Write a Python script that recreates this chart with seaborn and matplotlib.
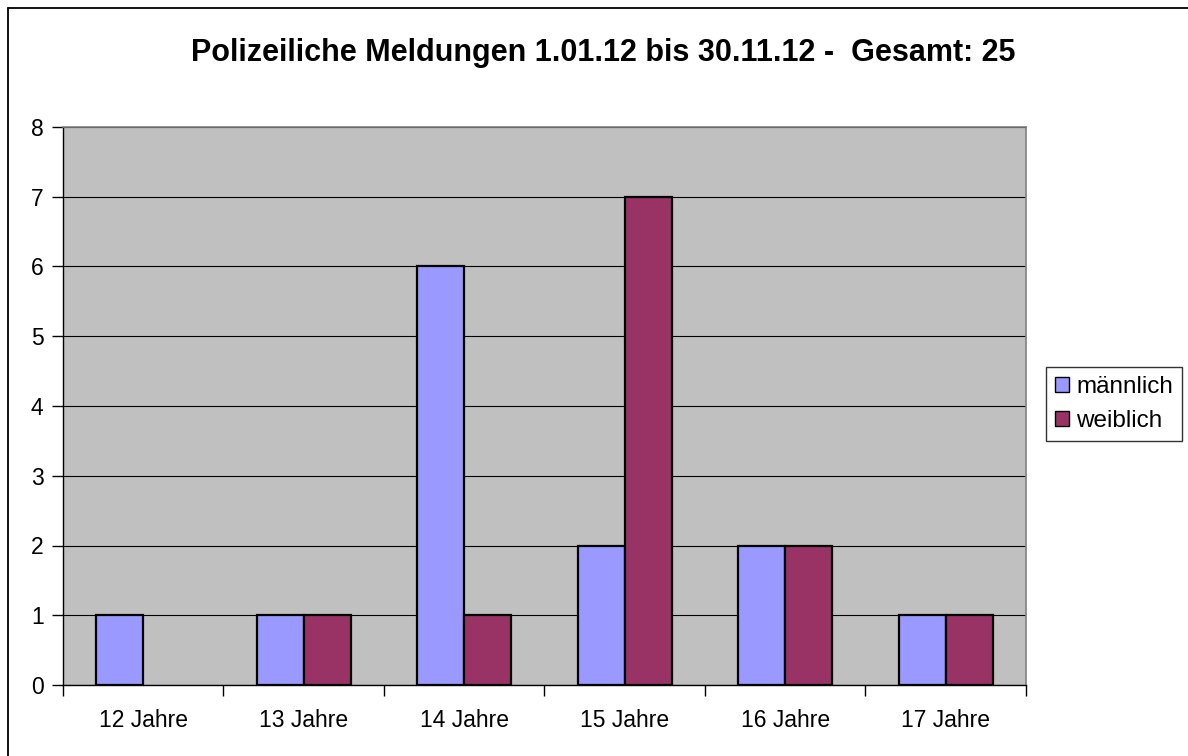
import matplotlib.pyplot as plt
import pandas as pd
import seaborn as sns
from matplotlib.lines import Line2D
from matplotlib.patches import Rectangle

ages = ["12 Jahre", "13 Jahre", "14 Jahre", "15 Jahre", "16 Jahre", "17 Jahre"]
maennlich = [1, 1, 6, 2, 2, 1]
weiblich = [0, 1, 1, 7, 2, 1]
series = ["männlich", "weiblich"]
colors = ["#9999FF", "#993366"]

df = pd.DataFrame(
    {
        "Alter": ages * 2,
        "Anzahl": maennlich + weiblich,
        "Geschlecht": [series[0]] * len(ages) + [series[1]] * len(ages),
    }
)

sns.set_style("white")
plt.rcParams["font.family"] = ["Liberation Sans", "DejaVu Sans"]
plt.rcParams["text.color"] = "black"
plt.rcParams["xtick.color"] = "black"
plt.rcParams["ytick.color"] = "black"

fig = plt.figure(figsize=(11.88, 7.56), dpi=100)
ax = fig.add_axes([63 / 1188, 1 - 685 / 756, (1026 - 63) / 1188, (685 - 127) / 756])

sns.barplot(
    data=df,
    x="Alter",
    y="Anzahl",
    hue="Geschlecht",
    palette=colors,
    width=0.585,
    edgecolor="black",
    linewidth=1.6,
    saturation=1,
    ax=ax,
    zorder=3,
)
# hide the zero-height bar outline
for p in ax.patches:
    if p.get_height() == 0:
        p.set_visible(False)

ax.set_facecolor("#C0C0C0")
ax.set_xlim(-0.5, 5.5)
ax.set_ylim(0, 8)
ax.set_yticks(range(0, 9))
ax.yaxis.grid(True, color="black", linewidth=0.8, zorder=1)
ax.set_axisbelow(True)
ax.set_xlabel("")
ax.set_ylabel("")

# category boundary ticks
ax.set_xticks([i + 0.5 for i in range(-1, 6)], minor=True)
ax.tick_params(axis="x", which="major", bottom=False, length=0, pad=17, labelsize=16.5)
ax.tick_params(axis="x", which="minor", bottom=True, length=8, width=1, color="black", direction="out")
ax.tick_params(axis="y", left=True, length=8, width=1, color="black", direction="out", labelsize=16.5, pad=6)

for side in ["left", "bottom"]:
    ax.spines[side].set_color("black")
    ax.spines[side].set_linewidth(1)
for side in ["top", "right"]:
    ax.spines[side].set_color("#808080")
    ax.spines[side].set_linewidth(1.2)

ax.legend_.remove()
handles = [Rectangle((0, 0), 1, 1, facecolor=c, edgecolor="black", linewidth=1) for c in colors]
leg = fig.legend(
    handles,
    series,
    loc="center left",
    bbox_to_anchor=(1046 / 1188, 1 - 404 / 756),
    frameon=True,
    fancybox=False,
    edgecolor="black",
    fontsize=17.5,
    handlelength=0.6,
    handleheight=0.6,
    handletextpad=0.3,
    labelspacing=0.5,
    borderpad=0.35,
    borderaxespad=0,
)
leg.get_frame().set_linewidth(1)

fig.text(
    603 / 1188,
    1 - 53 / 756,
    "Polizeiliche Meldungen 1.01.12 bis 30.11.12 -  Gesamt: 25",
    ha="center",
    va="center",
    fontsize=22,
    fontweight="bold",
)

# chart area border (only top and left edges are inside the picture)
fig.lines.append(Line2D([7.5 / 1188, 7.5 / 1188], [0, 1 - 7.5 / 756], transform=fig.transFigure, color="black", linewidth=1.3))
fig.lines.append(Line2D([7.5 / 1188, 1], [1 - 7.5 / 756, 1 - 7.5 / 756], transform=fig.transFigure, color="black", linewidth=1.3))

fig.savefig("out.png", dpi=100)
